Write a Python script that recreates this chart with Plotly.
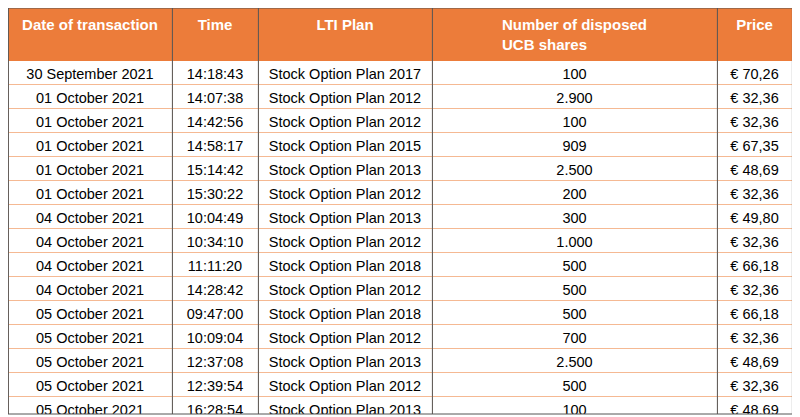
import plotly.graph_objects as go

headers = ["<b>Date of transaction</b>", "<b>Time</b>", "<b>LTI Plan</b>",
           "<b>Number of disposed<br>UCB shares</b>", "<b>Price</b>"]
dates = ["30 September 2021"] + ["01 October 2021"] * 5 + ["04 October 2021"] * 4 + ["05 October 2021"] * 5
times = ["14:18:43", "14:07:38", "14:42:56", "14:58:17", "15:14:42", "15:30:22", "10:04:49",
         "10:34:10", "11:11:20", "14:28:42", "09:47:00", "10:09:04", "12:37:08", "12:39:54", "16:28:54"]
plans = ["Stock Option Plan " + y for y in
         ["2017", "2012", "2012", "2015", "2013", "2012", "2013", "2012", "2018", "2012",
          "2018", "2012", "2013", "2012", "2013"]]
shares = ["100", "2.900", "100", "909", "2.500", "200", "300", "1.000", "500", "500",
          "500", "700", "2.500", "500", "100"]
prices = ["€ 70,26", "€ 32,36", "€ 32,36", "€ 67,35", "€ 48,69", "€ 32,36", "€ 49,80", "€ 32,36",
          "€ 66,18", "€ 32,36", "€ 66,18", "€ 32,36", "€ 48,69", "€ 32,36", "€ 48,69"]


def nb(lst):
    # keep each cell on one line
    return [s.replace(" ", "\u00a0") for s in lst]


W, H = 800, 417
# page body adds 8px offset, so figure coords are shifted
bounds = [0, 164, 250, 424, 709, 784]
widths = [bounds[i + 1] - bounds[i] for i in range(5)]
orange = "#EC7C3A"
top_px, bot_px = 0, 406

fig = go.Figure(go.Table(
    domain=dict(x=[0, bounds[-1] / W], y=[1 - bot_px / H, 1]),
    columnwidth=widths,
    header=dict(values=[h.replace(" of ", "\u00a0of\u00a0") for h in headers],
                fill_color=orange, line_color=orange, height=46,
                align="center", font=dict(color="white", size=15, family="Liberation Sans")),
    cells=dict(values=[nb(dates), nb(times), nb(plans), nb(shares), nb(prices)],
               fill_color="white", line=dict(color="#F5B993", width=1), height=24,
               align="center", font=dict(color="black", size=14.5, family="Liberation Sans")),
))

shapes = []
for b in bounds:
    shapes.append(dict(type="line", xref="paper", yref="paper", x0=b / W + 0.0005, x1=b / W + 0.0005,
                       y0=1 - bot_px / H, y1=1, line=dict(color="#555555", width=1)))
for yy in [1, 1 - bot_px / H]:
    shapes.append(dict(type="line", xref="paper", yref="paper", x0=0, x1=bounds[-1] / W,
                       y0=yy, y1=yy, line=dict(color="#555555", width=1)))

fig.update_layout(width=W, height=H, margin=dict(l=0, r=0, t=0, b=0),
                  paper_bgcolor="white", shapes=shapes)
fig.write_html("out.html")
